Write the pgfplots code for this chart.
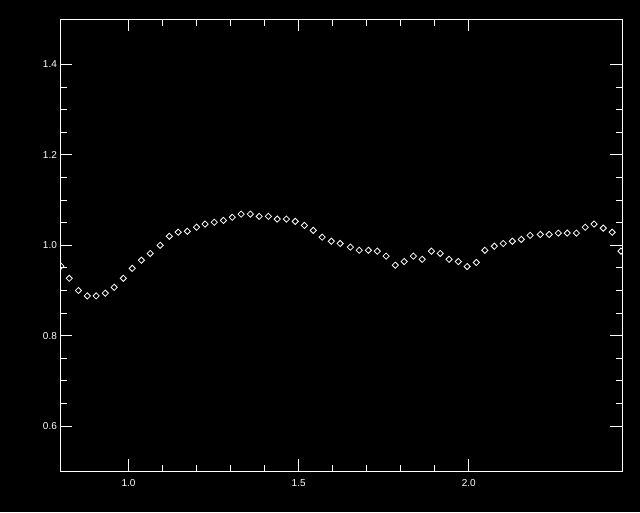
\documentclass[border=0pt]{standalone}
\usepackage{fontspec}
\setmainfont{Liberation Sans}
\usepackage{pgfplots}
\pgfplotsset{compat=1.18}
\begin{document}
\begin{tikzpicture}
\fill[black] (0pt,0pt) rectangle (640pt,512pt);
\useasboundingbox (0pt,0pt) rectangle (640pt,512pt);
\begin{axis}[
  at={(60.4pt,40.7pt)}, anchor=south west,
  scale only axis, width=561.6pt, height=452pt,
  xmin=0.8, xmax=2.45, ymin=0.5, ymax=1.5,
  xtick={1.0,1.5,2.0}, ytick={0.6,0.8,1.0,1.2,1.4},
  minor x tick num=4, minor y tick num=3,
  tick align=inside,
  major tick length=12pt, minor tick length=6.5pt,
  axis line style={white, line width=1pt},
  every tick/.style={white, line width=1pt},
  tick label style={white, font=\fontsize{10}{12}\selectfont},
  /pgf/number format/assume math mode=true,
  /pgf/number format/fixed, /pgf/number format/fixed zerofill,
  /pgf/number format/precision=1,
  xticklabel style={yshift=-5pt},
  clip marker paths=true,
]
\addplot[only marks, mark=square, mark size=2.2pt,
  mark options={draw=white, line width=0.8pt, rotate=45}] coordinates {
(0.8015,0.954) (0.826,0.927) (0.853,0.900) (0.879,0.888) (0.905,0.888)
(0.932,0.894) (0.958,0.907) (0.985,0.927) (1.011,0.949) (1.038,0.967)
(1.064,0.982) (1.093,1.000) (1.120,1.020) (1.146,1.029) (1.173,1.031)
(1.200,1.040) (1.225,1.047) (1.252,1.051) (1.279,1.055) (1.305,1.062)
(1.331,1.069) (1.358,1.069) (1.384,1.064) (1.411,1.064) (1.437,1.058)
(1.464,1.058) (1.490,1.053) (1.517,1.044) (1.543,1.033) (1.569,1.018)
(1.596,1.009) (1.622,1.004) (1.652,0.996) (1.678,0.989) (1.705,0.989)
(1.731,0.987) (1.757,0.976) (1.784,0.956) (1.810,0.964) (1.837,0.976)
(1.863,0.969) (1.890,0.987) (1.916,0.982) (1.942,0.969) (1.969,0.964)
(1.995,0.953) (2.022,0.962) (2.047,0.989) (2.075,0.998) (2.101,1.004)
(2.128,1.009) (2.154,1.013) (2.180,1.022) (2.210,1.024) (2.236,1.024)
(2.263,1.027) (2.289,1.027) (2.316,1.027) (2.342,1.040) (2.368,1.047)
(2.395,1.038) (2.421,1.029) (2.447,0.987)
};
\end{axis}
\end{tikzpicture}
\end{document}
